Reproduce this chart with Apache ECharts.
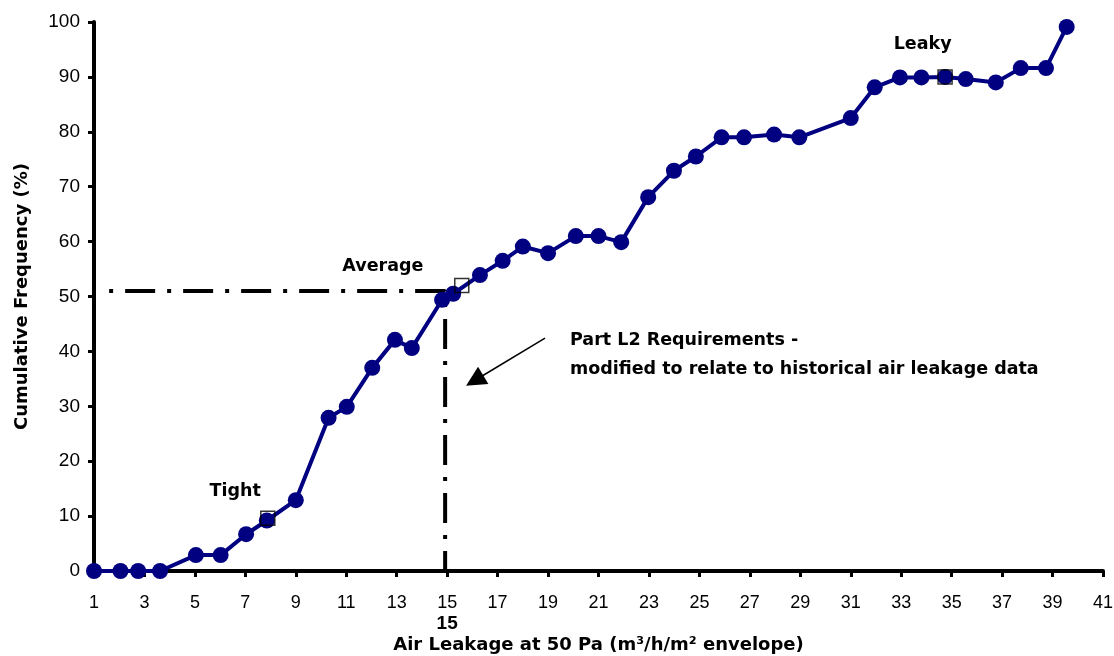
<!DOCTYPE html>
<html>
<head>
<meta charset="utf-8">
<script src="https://cdn.jsdelivr.net/npm/echarts@6/dist/echarts.min.js"></script>
<style>
  html, body { margin: 0; padding: 0; background: #fff; }
  #main { width: 1114px; height: 656px; }
</style>
</head>
<body>
<div id="main"></div>
<script type="text/javascript">
    // air leakage (x) vs cumulative frequency (y)
    var leakX = [1, 2.05, 2.75, 3.62, 5.04, 6.02, 7.03, 7.85, 9.0, 10.3, 11.02, 12.03, 12.93, 13.6,
                 14.8, 15.24, 16.3, 17.2, 18.0, 19.0, 20.1, 21.0, 21.9, 22.97, 23.99, 24.86, 25.88,
                 26.77, 27.96, 28.96, 31.0, 31.95, 32.95, 33.8, 34.74, 35.56, 36.75, 37.74, 38.74, 39.56];
    var freqY = [0, 0, 0, 0, 2.9, 2.9, 6.7, 9.2, 12.9, 27.9, 29.9, 37.0, 42.1, 40.6,
                 49.4, 50.5, 53.9, 56.5, 59.1, 57.9, 61.0, 61.0, 59.9, 68.1, 72.9, 75.5, 79.0,
                 79.0, 79.5, 79.0, 82.5, 88.1, 89.9, 89.9, 90.0, 89.6, 89.0, 91.6, 91.6, 99.1];

    // tight / average / leaky markers
    var refNames = ['Tight', 'Average', 'Leaky'];
    var refX = [7.89, 15.58, 34.74];
    var refY = [9.6, 52.0, 90.0];
    var refLabelX = [6.6, 12.45, 33.85];
    var refLabelY = [14.4, 55.4, 96.0];

    // Part L2 requirement guide (dash-dot)
    var guideX = [1.6, 14.92, 14.92];
    var guideY = [51, 51, 0];
    var guideValue = 15;

    var noteText = 'Part L2 Requirements -\nmodified to relate to historical air leakage data';
    var noteX = 19.87, noteY = 44.7;
    var arrowFrom = [18.88, 42.4];
    var arrowTo = [16.09, 34.7];

    var xTitle = 'Air Leakage at 50 Pa (m\u00b3/h/m\u00b2 envelope)';
    var yTitle = 'Cumulative Frequency (%)';

    function zip(a, b) {
        var out = [];
        for (var i = 0; i < a.length; i++) out.push([a[i], b[i]]);
        return out;
    }

    var font = '"Liberation Sans", Arial, sans-serif';
    var wide = '"DejaVu Sans", Verdana, sans-serif';
    var navy = '#000080';

    var myChart = echarts.init(document.getElementById('main'));
    var option = {
        animation: false,
        backgroundColor: '#fff',
        grid: { left: 94, right: 11, top: 22, bottom: 85, containLabel: false, outerBoundsMode: 'none' },
        xAxis: {
            type: 'value', min: 1, max: 41, interval: 2,
            name: xTitle, nameLocation: 'middle', nameGap: 65,
            nameTextStyle: { fontFamily: wide, fontSize: 18, fontWeight: 'bold', color: '#000' },
            axisLine: { onZero: false, lineStyle: { color: '#000', width: 4 } },
            axisTick: { show: true, length: 6, lineStyle: { color: '#000', width: 3 } },
            axisLabel: { margin: 23, fontFamily: font, fontSize: 18, color: '#000' },
            splitLine: { show: false }
        },
        yAxis: {
            type: 'value', min: 0, max: 100, interval: 10,
            name: yTitle, nameLocation: 'middle', nameGap: 63, nameRotate: 90,
            nameTextStyle: { fontFamily: wide, fontSize: 18, fontWeight: 'bold', color: '#000' },
            axisLine: { show: true, lineStyle: { color: '#000', width: 4 } },
            axisTick: { show: true, length: 6, lineStyle: { color: '#000', width: 3 } },
            axisLabel: { margin: 14, fontFamily: font, fontSize: 19, color: '#000' },
            splitLine: { show: false }
        },
        series: [
            {
                type: 'line',
                data: zip(guideX, guideY),
                symbol: 'none',
                silent: true,
                z: 1,
                lineStyle: { color: '#000', width: 4, type: [4, 12, 30, 12] },
                markLine: {
                    silent: true,
                    symbol: ['none', 'triangle'],
                    symbolSize: 20,
                    label: { show: false },
                    lineStyle: { color: '#000', width: 1.5, type: 'solid' },
                    data: [[{ coord: arrowFrom }, { coord: arrowTo }]]
                }
            },
            {
                type: 'line',
                data: zip(leakX, freqY),
                symbol: 'circle',
                symbolSize: 16,
                z: 3,
                itemStyle: { color: navy },
                lineStyle: { color: navy, width: 4 }
            },
            {
                type: 'scatter',
                data: zip(refX, refY),
                symbol: 'rect',
                symbolSize: 14,
                z: 5,
                itemStyle: { color: 'rgba(0,0,0,0)', borderColor: '#000', borderWidth: 1.5 }
            }
        ]
    };
    myChart.setOption(option);

    // annotations placed through the axes' own scales
    var graphics = [];
    var bold = 'bold 17.5px ' + wide;
    for (var i = 0; i < refNames.length; i++) {
        var p = myChart.convertToPixel({ gridIndex: 0 }, [refLabelX[i], refLabelY[i]]);
        graphics.push({
            type: 'text', x: p[0], y: p[1], z: 10,
            style: { text: refNames[i], font: bold, fill: '#000', align: 'center', verticalAlign: 'middle' }
        });
    }
    var np = myChart.convertToPixel({ gridIndex: 0 }, [noteX, noteY]);
    graphics.push({
        type: 'text', x: np[0], y: np[1], z: 10,
        style: { text: noteText, font: bold, fill: '#000', align: 'left', verticalAlign: 'top', lineHeight: 29 }
    });
    var gp = myChart.convertToPixel({ gridIndex: 0 }, [guideValue, 0]);
    graphics.push({
        type: 'text', x: gp[0], y: gp[1] + 53, z: 10,
        style: { text: String(guideValue), font: 'bold 19px ' + font, fill: '#000', align: 'center', verticalAlign: 'middle' }
    });
    myChart.setOption({ graphic: graphics });
</script>
</body>
</html>
